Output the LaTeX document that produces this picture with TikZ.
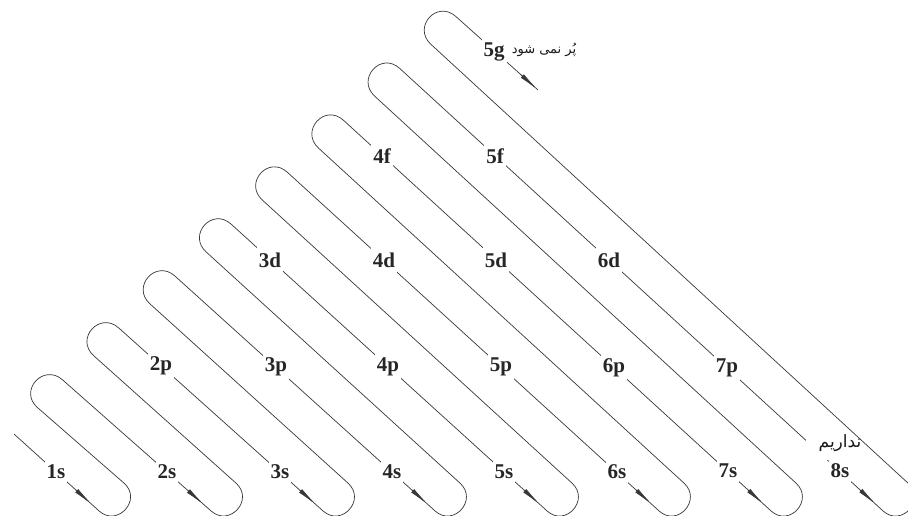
\documentclass[tikz,border=0pt]{standalone}
\usepackage{fontspec}
\setmainfont{Liberation Serif}
\newfontfamily\farsifont[Script=Arabic]{DejaVu Sans}
\TeXXeTstate=1
\usetikzlibrary{calc,arrows.meta}
\begin{document}
\begin{tikzpicture}[x=1pt,y=-1pt,
  snake/.style={draw=black!78, line width=0.7pt},
  orb/.style={fill=white, text=black!85, font=\fontsize{21}{21}\selectfont\bfseries, inner xsep=2pt, inner ysep=5.5pt},
  fa/.style={text=black!90, inner sep=1pt},
  tipline/.style={draw=black!78, line width=0.7pt, -{Latex[length=21pt,width=4.5pt]}}
]
\useasboundingbox (0,0) rectangle (908,515);
\clip (0,0) rectangle (908,515);
\fill[white] (0,0) rectangle (908,515);
% arrow lines (through the labels): start Ls, end Le
% return lines: start Rs (bottom), end Re (top)
\coordinate (Ls1) at (14,434);    \coordinate (Le1) at (99,510.9);
\coordinate (Rs1) at (124,483.1); \coordinate (Re1) at (37.5,407.6);
\coordinate (Ls2) at (62.5,379.8); \coordinate (Le2) at (211,510.9);
\coordinate (Rs2) at (236,483.1); \coordinate (Re2) at (93.7,355.7);
\coordinate (Ls3) at (118.7,327.9); \coordinate (Le3) at (323,510.9);
\coordinate (Rs3) at (348,483.1); \coordinate (Re3) at (149.9,303.8);
\coordinate (Ls4) at (174.9,276.0); \coordinate (Le4) at (435,510.9);
\coordinate (Rs4) at (460,483.1); \coordinate (Re4) at (206.1,251.9);
\coordinate (Ls5) at (231.1,224.1); \coordinate (Le5) at (547,510.9);
\coordinate (Rs5) at (572,483.1); \coordinate (Re5) at (262.3,200.0);
\coordinate (Ls6) at (287.3,172.2); \coordinate (Le6) at (659,510.9);
\coordinate (Rs6) at (684,483.1); \coordinate (Re6) at (318.5,148.1);
\coordinate (Ls7) at (343.5,120.3); \coordinate (Le7) at (771,510.9);
\coordinate (Rs7) at (796,483.1); \coordinate (Re7) at (374.7,96.2);
\coordinate (Ls8) at (399.7,68.4); \coordinate (Le8) at (883,510.9);
\coordinate (Rs8) at (908,483.1); \coordinate (Re8) at (430.9,44.3);
\coordinate (Ls9) at (455.9,16.5); \coordinate (Le9) at (538,90);

\draw[snake] (Ls1)
  foreach \a/\b in {1/2,2/3,3/4,4/5,5/6,6/7,7/8,8/9} {
    -- (Le\a) .. controls ($(Le\a)!-24.9pt!(Ls\a)$) and ($(Rs\a)!-24.9pt!(Re\a)$) .. (Rs\a)
    -- (Re\a) .. controls ($(Re\a)!-25.5pt!(Rs\a)$) and ($(Ls\b)!-25.5pt!(Le\b)$) .. (Ls\b)
  } -- (Le9);

\foreach \a in {1,...,8} {
  \draw[tipline] ($(Le\a)!31pt!(Ls\a)$) -- ($(Le\a)!9pt!(Ls\a)$);
}
\draw[tipline] ($(Le9)!23pt!(Ls9)$) -- (Le9);

% gap in the 8s line under the Persian note
\fill[white] (806,430) rectangle (836,460);

% labels
\node[orb] (o1s) at (56,472) {1s};
\node[orb] (o2s) at (167,472) {2s};
\node[orb] (o3s) at (280,472) {3s};
\node[orb] (o4s) at (392,472) {4s};
\node[orb] (o5s) at (504,472) {5s};
\node[orb] (o6s) at (617,472) {6s};
\node[orb] (o7s) at (728,471) {7s};
\node[orb] (o8s) at (840,471) {8s};
\node[orb] (o2p) at (161,366) {2p};
\node[orb] (o3p) at (276,367) {3p};
\node[orb] (o4p) at (388,367) {4p};
\node[orb] (o5p) at (501,367) {5p};
\node[orb] (o6p) at (614,368) {6p};
\node[orb] (o7p) at (727,368) {7p};
\node[orb] (o3d) at (270,260) {3d};
\node[orb] (o4d) at (384,260) {4d};
\node[orb] (o5d) at (496,260) {5d};
\node[orb] (o6d) at (609,260) {6d};
\node[orb] (o4f) at (382,156) {4f};
\node[orb] (o5f) at (495,156) {5f};
\node[orb] (o5g) at (494,52) {5g};

\node[fa, font=\farsifont\fontsize{13}{15}\selectfont] (fa5g) at (544,50) {\beginR پُر نمی شود\endR};
\node[fa, font=\farsifont\fontsize{17}{19}\selectfont] (fa8s) at (840,443) {\beginR نداریم\endR};
\end{tikzpicture}
\end{document}
